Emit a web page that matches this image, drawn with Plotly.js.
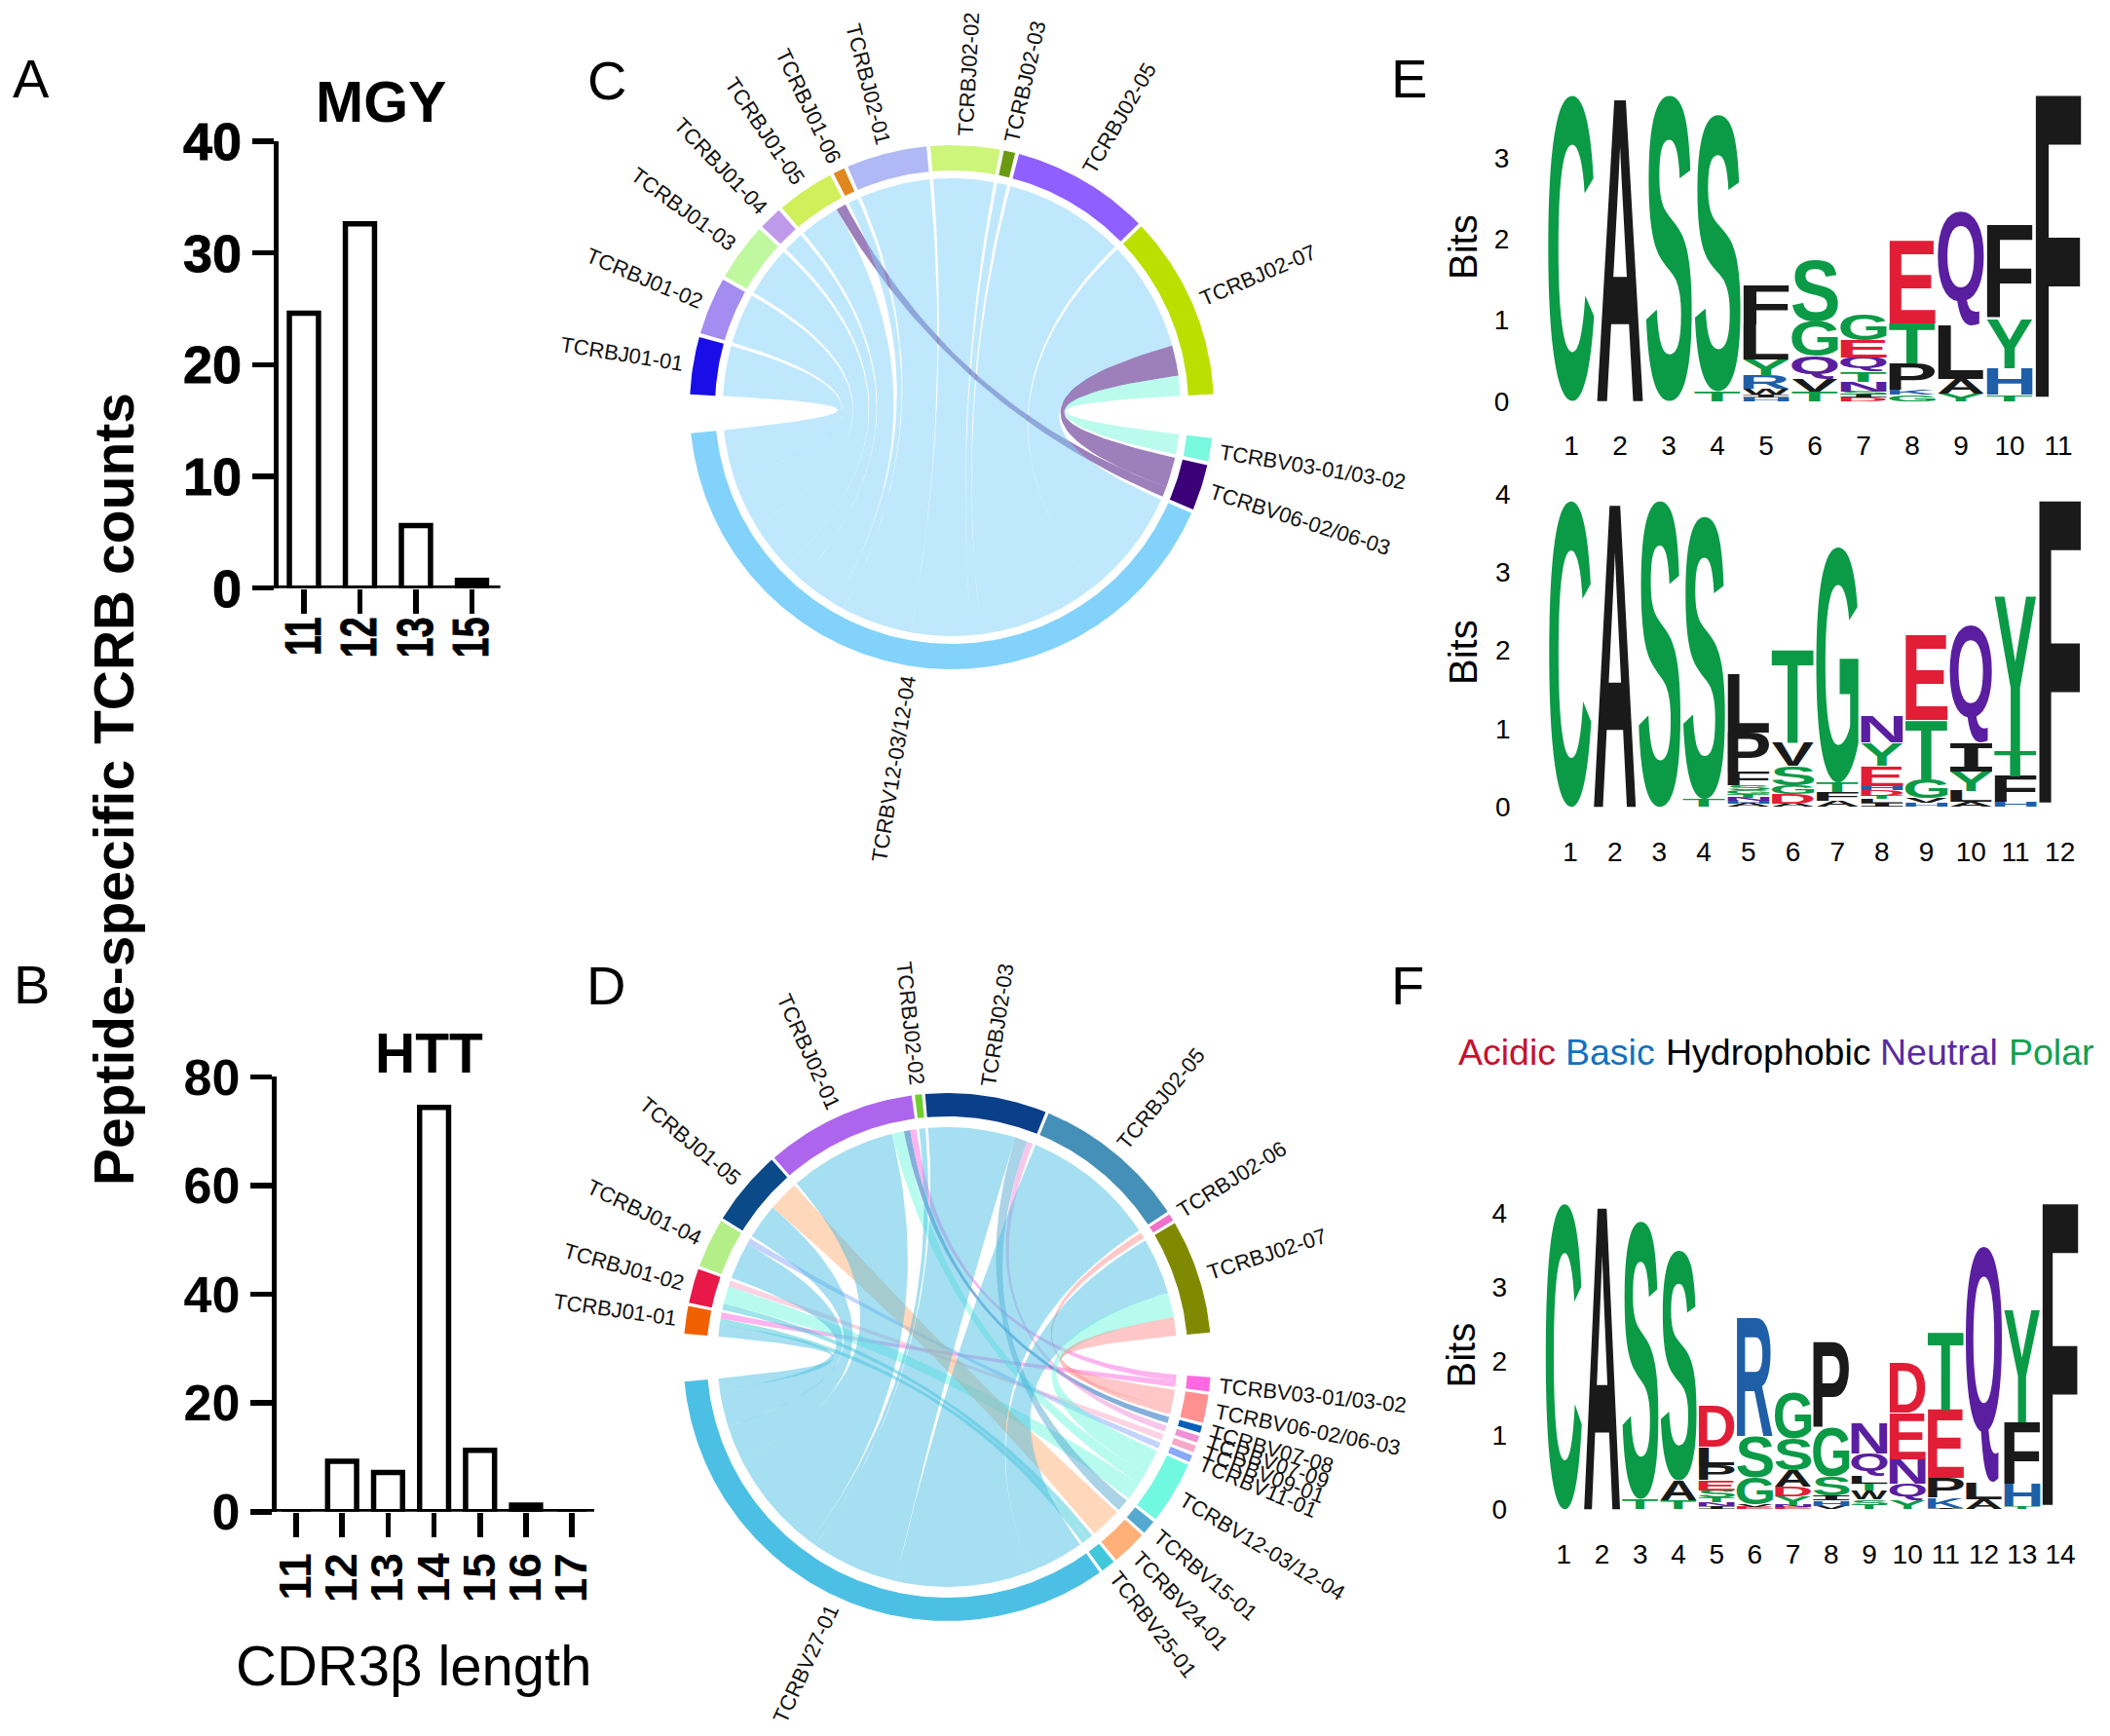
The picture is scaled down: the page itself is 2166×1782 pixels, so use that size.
<!DOCTYPE html>
<html><head><meta charset="utf-8">
<script src="https://cdn.plot.ly/plotly-3.0.1.min.js"></script>
<style>html,body{margin:0;padding:0;background:#fff}#gd{width:2166px;height:1782px}</style>
</head><body><div id="gd"></div>
<script>
// ---------- data ----------
const mgyLengths = ['11','12','13','15'];
const mgyCounts = [24.6,32.6,5.6,0.7];
const httLengths = ['11','12','13','14','15','16','17'];
const httCounts = [0,9.3,7.2,74.4,11.3,1.2,0];

const chordCJ = ['TCRBJ01-01','TCRBJ01-02','TCRBJ01-03','TCRBJ01-04','TCRBJ01-05','TCRBJ01-06','TCRBJ02-01','TCRBJ02-02','TCRBJ02-03','TCRBJ02-05','TCRBJ02-07'];
const chordCJColors = ['#1a0ee8','#a58cf0','#c0f8a0','#c09aea','#d0ef5a','#e08820','#b0b8f5','#cdf57a','#6a9a10','#8f5fff','#bbe000'];
const chordCV = ['TCRBV03-01/03-02','TCRBV06-02/06-03','TCRBV12-03/12-04'];
const chordCVColors = ['#78f8dc','#3b0078','#82d2fb'];
const chordCMatrix = [[0,0,5],[0,0,5],[0,0,5],[0,0,2],[0,1,4],[0,0,1],[0,0,7],[0,0,6],[0,0,1],[0,0,12],[2,3,11]];

const chordDJ = ['TCRBJ01-01','TCRBJ01-02','TCRBJ01-04','TCRBJ01-05','TCRBJ02-01','TCRBJ02-02','TCRBJ02-03','TCRBJ02-05','TCRBJ02-06','TCRBJ02-07'];
const chordDJColors = ['#f06000','#e81848','#b4ee88','#0a4a88','#ad65ee','#70cc30','#0a3f8a','#4590b8','#f070c8','#808a00'];
const chordDV = ['TCRBV03-01/03-02','TCRBV06-02/06-03','TCRBV07-08','TCRBV07-09','TCRBV09-01','TCRBV11-01','TCRBV12-03/12-04','TCRBV15-01','TCRBV24-01','TCRBV25-01','TCRBV27-01'];
const chordDVColors = ['#ff68e0','#ff9090','#0a60b8','#f090d8','#f8a8c8','#88a8f8','#70f8e0','#55a8d0','#ffb078','#40c8d8','#4cc0e4'];
const chordDMatrix = [
 [1,0,0,0,0,0,0,0,0,1,1.9],
 [0,0,0,0,1,0,2.9,0,0,1,0],
 [0,0,0,0,0,1,0,0,0,0,6],
 [0,0,0,0,0,0,0,0,5,0,5.7],
 [1,0,1,0,0,0,2,0,0,0,17.4],
 [0,0,0,0,0,0,0,0,0,0,1],
 [0,0,0,1,0,0,0,2,0,0,14.2],
 [0,0,0,0,0,0,0,0,0,0,21.9],
 [0,1,0,0,0,0,0,0,0,0,0],
 [0,3,0,0,0,0,4,0,0,0,9.2]];

// sequence logos: each column is a bottom-to-top stack of [letter, bits]
const logoE1 = [
 [['C',3.77]],[['A',3.77]],[['S',3.77]],[['T',.12],['S',3.41]],
 [['H',.05],['I',.03],['W',.07],['R',.16],['Y',.2],['L',.43],['F',.49]],
 [['T',.12],['V',.15],['Q',.28],['G',.43],['S',.76]],
 [['D',.04],['I',.04],['S',.04],['N',.12],['T',.13],['Q',.17],['E',.21],['G',.32]],
 [['G',.08],['K',.06],['P',.32],['T',.5],['E',1.01]],
 [['Y',.09],['A',.18],['L',.66],['Q',1.4]],
 [['T',.08],['H',.33],['Y',.6],['F',1.15]],
 [['F',3.77]]];
const logoE2 = [
 [['C',3.91]],[['A',3.91]],[['S',3.91]],[['T',.1],['S',3.61]],
 [['A',.04],['H',.04],['N',.04],['T',.04],['G',.05],['S',.06],['F',.18],['P',.5],['L',.74]],
 [['A',.04],['D',.12],['G',.11],['S',.25],['V',.3],['T',1.2]],
 [['A',.08],['F',.11],['T',.12],['G',3.01]],
 [['I',.05],['L',.05],['T',.04],['D',.07],['H',.06],['E',.26],['Y',.29],['N',.33]],
 [['H',.05],['V',.06],['G',.24],['T',.76],['E',1.09]],
 [['A',.06],['L',.14],['Y',.25],['I',.36],['Q',1.5]],
 [['H',.06],['F',.33],['T',.32],['Y',1.98]],
 [['F',3.91]]];
const logoF = [
 [['C',4.13]],[['A',4.13]],[['T',.14],['S',3.75]],[['T',.12],['A',.27],['S',3.11]],
 [['I',.04],['N',.05],['T',.07],['S',.1],['E',.13],['P',.21],['L',.24],['D',.55]],
 [['E',.03],['V',.04],['G',.36],['S',.56],['R',1.6]],
 [['E',.03],['N',.03],['Y',.11],['D',.14],['A',.22],['S',.43],['G',.62]],
 [['V',.05],['H',.07],['I',.07],['S',.25],['G',.65],['P',1.17]],
 [['T',.06],['S',.07],['W',.12],['T',.1],['L',.1],['Q',.3],['N',.41]],
 [['Y',.12],['Q',.22],['N',.34],['E',.63],['D',.68]],
 [['I',.02],['K',.14],['P',.27],['E',.92],['T',1.06]],
 [['A',.14],['L',.22],['Q',3.19]],
 [['T',.04],['H',.3],['F',.83],['Y',1.52]],
 [['F',4.13]]];
const legendWords = ['Acidic','Basic','Hydrophobic','Neutral','Polar'];
const legendColors = ['#c8102e','#1070c0','#000000','#5a2aa0','#10a050'];
const panelLetters = ['A','B','C','D','E','F'];

// ---------- helpers ----------
const W=2166,H=1782;
const FONT='Liberation Sans';
const xd=(l,r)=>[l/W,r/W], yd=(t,b)=>[1-b/H,1-t/H];
const cv=document.createElement('canvas').getContext('2d');
function textW(s,size){cv.font=size+'px "'+FONT+'"';return cv.measureText(s).width;}
function rgba(hex,a){const n=parseInt(hex.slice(1),16);return `rgba(${n>>16},${(n>>8)&255},${n&255},${a})`;}
const rad=d=>d*Math.PI/180;

const traces=[], annotations=[], shapes=[], layout={};
function paperText(text,x,y,size,opts){
  annotations.push(Object.assign({text,xref:'paper',yref:'paper',x:x/W,y:1-y/H,showarrow:false,xanchor:'center',yanchor:'middle',
    font:{family:FONT,size,color:'#000'}},opts||{}));
}

// ---------- bar panels ----------
const LW=5.5;
function barPanel(n,cats,vals,g){
  const s=n===1?'':n;
  const left=g.axisX+LW/2;
  traces.push({type:'bar',x:cats.map((c,i)=>i),y:vals,width:g.barW,xaxis:'x'+s,yaxis:'y'+s,cliponaxis:false,
    marker:{color:vals.map(v=>v*g.pxPer<9?'#000':'#fff'),line:{color:'#000',width:LW}},hoverinfo:'skip',showlegend:false});
  layout['xaxis'+s]={domain:xd(left,g.right),range:[(left-g.c0)/g.step,(g.right-g.c0)/g.step],anchor:'y'+s,
    tickmode:'array',tickvals:cats.map((c,i)=>i),ticktext:cats,tickangle:-90,ticks:'outside',ticklen:25,tickwidth:LW,tickcolor:'#000',
    showline:false,showgrid:false,zeroline:false,tickfont:{family:FONT,size:g.xFont,color:'#000',weight:'bold'},ticklabelstandoff:g.xOff||0};
  layout['yaxis'+s]={domain:yd(g.top,g.bottom),range:[0,g.yMax],anchor:'x'+s,tickmode:'array',tickvals:g.yTicks,
    ticks:'outside',ticklen:22,tickwidth:LW,tickcolor:'#000',showline:true,linewidth:LW,linecolor:'#000',showgrid:false,zeroline:false,
    tickfont:{family:FONT,size:g.yFont,color:'#000',weight:'bold'},ticklabelstandoff:g.yOff||0};
  shapes.push({type:'line',xref:'x'+s+' domain',yref:'y'+s,x0:-0.011,x1:1,y0:0,y1:0,line:{color:'#000',width:LW}});
}
barPanel(1,mgyLengths,mgyCounts,{axisX:283.6,right:513.6,c0:312,step:57.5,barW:.52,top:145,bottom:603.7,yMax:40,pxPer:11.47,yTicks:[0,10,20,30,40],xFont:52,yFont:54,xOff:-17});
barPanel(2,httLengths,httCounts,{axisX:281.6,right:610,c0:304,step:47.2,barW:.63,top:1105.4,bottom:1551.8,yMax:80,pxPer:5.58,yTicks:[0,20,40,60,80],xFont:46,yFont:52,xOff:-2});
const tickSquash={'':.72,'2':.89};

// ---------- chord panels ----------
function chord(n,J,JC,V,VC,M,g){
  const ax='x'+n, ay='y'+n;
  layout['xaxis'+n]={domain:xd(g.cx-g.half,g.cx+g.half),range:[-g.half,g.half],visible:false,anchor:ay};
  layout['yaxis'+n]={domain:yd(g.cy-g.half,g.cy+g.half),range:[-g.half,g.half],visible:false,anchor:ax};
  const pol=(r,d)=>[r*Math.cos(rad(d)),r*Math.sin(rad(d))];
  const poly=(pts,color)=>traces.push({type:'scatter',mode:'lines',x:pts.map(p=>p[0]),y:pts.map(p=>p[1]),fill:'toself',fillcolor:color,
    line:{width:0,color:'rgba(0,0,0,0)'},xaxis:ax,yaxis:ay,hoverinfo:'skip',showlegend:false});
  const arc=(r,a,b)=>{const k=Math.max(2,Math.ceil(Math.abs(a-b)*1.5));const o=[];for(let i=0;i<=k;i++)o.push(pol(r,a+(b-a)*i/k));return o;};
  const bez=(p,q)=>{const o=[];for(let i=1;i<40;i++){const t=i/40,u=(1-t)*(1-t),w=t*t;o.push([u*p[0]+w*q[0],u*p[1]+w*q[1]]);}return o;};
  const jSize=M.map(r=>r.reduce((a,b)=>a+b,0));
  const vSize=V.map((_,c)=>M.reduce((a,r)=>a+r[c],0));
  const place=(sizes,start)=>{let a=start;return sizes.map(s=>{const e=a-s*g.deg;const o=[a,e];a=e-g.gap;return o;});};
  const jSec=place(jSize,g.startJ), vSec=place(vSize,g.startV);
  // links; within a J sector V runs last to first, within a V sector J runs last to first
  const jCur=jSec.map(s=>s[0]), vCur=vSec.map(s=>s[0]);
  const links=[];
  for(let j=0;j<J.length;j++){for(let v=V.length-1;v>=0;v--){ if(M[j][v]>0){const w=M[j][v]*g.deg;links[links.length]={j,v,a0:jCur[j],a1:jCur[j]-w};jCur[j]-=w;}}}
  for(let j=J.length-1;j>=0;j--){for(let v=0;v<V.length;v++){ if(M[j][v]>0){const w=M[j][v]*g.deg;const l=links.find(x=>x.j===j&&x.v===v);l.b0=vCur[v];l.b1=vCur[v]-w;vCur[v]-=w;}}}
  links.forEach(l=>{
    const A=arc(g.rLink,l.a0,l.a1),B=arc(g.rLink,l.b0,l.b1);
    poly(A.concat(bez(A[A.length-1],B[0]),B,bez(B[B.length-1],A[0])),rgba(VC[l.v],.5));
  });
  const sec=(name,color,s)=>{
    poly(arc(g.rOut,s[0],s[1]).concat(arc(g.rIn,s[1],s[0])),color);
    const mid=(s[0]+s[1])/2;
    const w=textW(name,g.labelFont);
    const p=pol(g.rLabel+w/2,mid);
    const cosv=Math.cos(rad(mid));
    let ang=cosv>=0?-mid:180-mid;
    while(ang>180)ang-=360; while(ang<=-180)ang+=360;
    annotations.push({text:name,xref:ax,yref:ay,x:p[0],y:p[1],textangle:ang,showarrow:false,xanchor:'center',yanchor:'middle',
      font:{family:FONT,size:g.labelFont,color:'#111'}});
  };
  J.forEach((nm,i)=>sec(nm,JC[i],jSec[i]));
  V.forEach((nm,i)=>sec(nm,VC[i],vSec[i]));
}
chord(3,chordCJ,chordCJColors,chordCV,chordCVColors,chordCMatrix,{cx:977,cy:418,half:410,rOut:269,rIn:243,rLink:235,rLabel:279,deg:2.55,gap:.86,startJ:177.2,startV:-6.8,labelFont:22});
chord(4,chordDJ,chordDJColors,chordDV,chordDVColors,chordDMatrix,{cx:972.4,cy:1393,half:385,rOut:271,rIn:247,rLink:236,rLabel:281,deg:1.552,gap:.7,startJ:174.9,startV:-4.4,labelFont:22});

// ---------- sequence logos ----------
const groupColor={G:'#0b9a46',S:'#0b9a46',T:'#0b9a46',Y:'#0b9a46',C:'#0b9a46',N:'#5a1ea0',Q:'#5a1ea0',K:'#1f5fa8',R:'#1f5fa8',H:'#1f5fa8',D:'#e11e36',E:'#e11e36',
  A:'#1a1a1a',V:'#1a1a1a',L:'#1a1a1a',I:'#1a1a1a',P:'#1a1a1a',W:'#1a1a1a',F:'#1a1a1a',M:'#1a1a1a'};
const letterFamily=l=>l==='I'?'DejaVu Sans Mono':FONT;
function logo(n,cols,g){
  const ax='x'+n, ay='y'+n;
  const x=[],y=[],t=[],c=[],f=[],h=[];
  cols.forEach((stack,i)=>{let b=0;stack.forEach(([l,v])=>{x.push(i+1);y.push(b+v/2);t.push(l);c.push(groupColor[l]);f.push(letterFamily(l));h.push(v);b+=v;});});
  traces.push({type:'scatter',mode:'text',x,y,text:t,customdata:h,textposition:'middle center',cliponaxis:false,meta:g.letterW,
    textfont:{family:f,size:100,color:c,weight:'bold'},xaxis:ax,yaxis:ay,hoverinfo:'skip',showlegend:false});
  const l=g.c1-g.step/2, r=g.c1+g.step*(cols.length-.5);
  const ticks=cols.map((_,i)=>i+1);
  layout['xaxis'+n]={domain:xd(l,r),range:[.5,cols.length+.5],anchor:ay,tickmode:'array',tickvals:ticks,ticks:'outside',ticklen:g.xLen,tickcolor:'rgba(0,0,0,0)',
    showline:false,showgrid:false,zeroline:false,tickangle:0,tickfont:{family:FONT,size:28,color:'#000'}};
  layout['yaxis'+n]={domain:yd(g.bottom-g.bit*g.yMax,g.bottom),range:[0,g.yMax],anchor:ax,tickmode:'array',tickvals:g.yTicks,ticks:'outside',ticklen:g.yLen,tickcolor:'rgba(0,0,0,0)',
    showline:false,showgrid:false,zeroline:false,tickfont:{family:FONT,size:28,color:'#000'}};
  paperText('Bits',g.bitsX,g.bitsY,40,{textangle:-90});
}
logo(5,logoE1,{c1:1613,step:50,letterW:47.5,bottom:411.7,bit:83.3,yMax:3.8,yTicks:[0,1,2,3],xLen:21,yLen:32,bitsX:1502,bitsY:254});
logo(6,logoE2,{c1:1612,step:45.7,letterW:43.5,bottom:828.3,bit:80.4,yMax:4,yTicks:[0,1,2,3,4],xLen:21,yLen:32,bitsX:1502,bitsY:670});
logo(7,logoF,{c1:1605.4,step:39.2,letterW:37.3,bottom:1549.3,bit:76,yMax:4.13,yTicks:[0,1,2,3,4],xLen:21,yLen:32,bitsX:1499,bitsY:1391.5});

// ---------- free text ----------
const letterPos=[[32,81],[32,1010],[623,82],[622,1011],[1446,80],[1445,1011]];
panelLetters.forEach((l,i)=>paperText(l,letterPos[i][0],letterPos[i][1],56));
paperText('MGY',391,105,59,{font:{family:FONT,size:59,color:'#000',weight:'bold'}});
paperText('HTT',440,1081,57,{font:{family:FONT,size:57,color:'#000',weight:'bold'}});
paperText('Peptide-specific TCRB counts',117,810,57,{textangle:-90,font:{family:FONT,size:57,color:'#000',weight:'bold'}});
paperText('CDR3β length',424,1709,58);
const legendX=[1505-10,1605,1708,1928,2060];
legendWords.forEach((w,i)=>paperText(w,legendX[i],1080,37.5,{xanchor:'left',font:{family:FONT,size:37.5,color:legendColors[i]}}));

Object.assign(layout,{width:W,height:H,margin:{l:0,r:0,t:0,b:0},paper_bgcolor:'#fff',plot_bgcolor:'rgba(0,0,0,0)',showlegend:false,annotations,shapes,bargap:0});

Plotly.newPlot('gd',traces,layout,{displayModeBar:false,staticPlot:true}).then(gd=>{
  // stretch each logo letter so its ink fills its stack cell
  const full=gd._fullLayout;
  gd.querySelectorAll('.scatterlayer .trace').forEach(tr=>{
    const cd=tr.__data__; if(!cd||!cd[0]||!cd[0].trace||cd[0].trace.mode!=='text')return;
    const trace=cd[0].trace;
    const xa=full[trace.xaxis.replace('x','xaxis')], ya=full[trace.yaxis.replace('y','yaxis')];
    tr.querySelectorAll('.textpoint').forEach(g=>{
      const d=g.__data__, te=g.querySelector('text'); if(!te)return;
      const i=d.i, L=trace.text[i], hv=trace.customdata[i], fam=letterFamily(L);
      cv.font='bold 100px "'+fam+'"';
      const m=cv.measureText(L);
      const inkW=m.actualBoundingBoxLeft+m.actualBoundingBoxRight, inkH=m.actualBoundingBoxAscent+m.actualBoundingBoxDescent;
      const wpx=trace.meta, left=xa.c2p(trace.x[i])-wpx/2, base=ya.c2p(trace.y[i]-hv/2), hpx=Math.abs(ya.c2p(trace.y[i]+hv/2)-base);
      g.removeAttribute('transform');
      te.setAttribute('x',0);te.setAttribute('y',0);te.setAttribute('text-anchor','start');
      te.style.fontFamily='"'+fam+'"';te.style.fontWeight='bold';te.style.fontSize='100px';
      te.setAttribute('transform',`translate(${left},${base}) scale(${wpx/inkW},${hpx/inkH}) translate(${m.actualBoundingBoxLeft},${-m.actualBoundingBoxDescent})`);
    });
  });
  // bar-panel tick labels: heavier face, and digits compressed along their reading direction
  ['','2'].forEach(s=>{
    const sp=gd.querySelector('.subplot.x'+s+'y'+s); if(!sp)return;
    sp.querySelectorAll('.xtick text, .ytick text').forEach(te=>{te.style.stroke='#000';te.style.strokeWidth='0.9px';});
    sp.querySelectorAll('.xtick text').forEach(te=>{
      const x=+te.getAttribute('x'), y=+te.getAttribute('y'), t=te.getAttribute('transform')||'';
      te.setAttribute('transform',`${t} translate(${x},${y}) scale(${tickSquash[s]},1) translate(${-x},${-y})`);
    });
  });
});
</script></body></html>
